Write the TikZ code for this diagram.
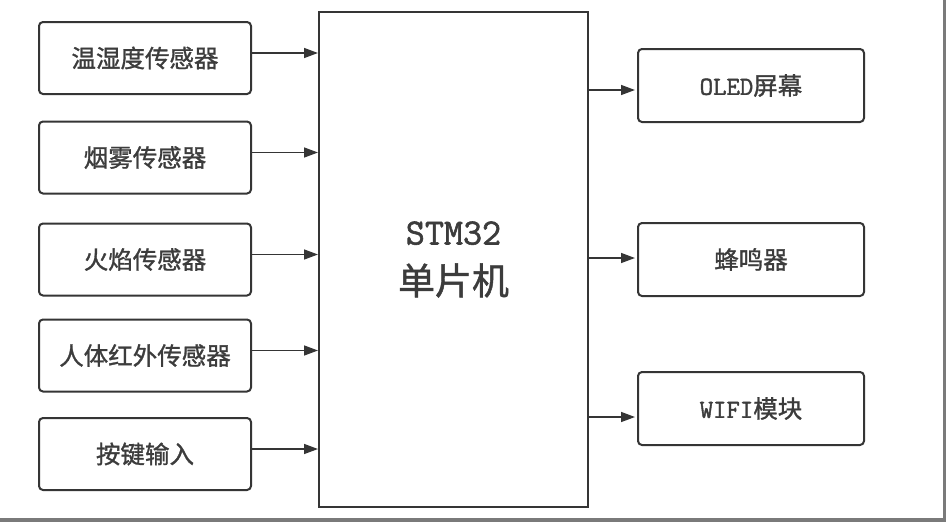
\documentclass[tikz,border=0pt]{standalone}
\usepackage{fontspec}
\newfontfamily\cjk{Noto Sans CJK SC}[FakeBold=1.2]
\newfontfamily\mono{Latin Modern Mono}[FakeBold=1.6]
\usetikzlibrary{arrows.meta}
\definecolor{linec}{HTML}{353535}
\definecolor{textc}{HTML}{3C3C3C}
\definecolor{framec}{HTML}{7A7A7A}
\begin{document}
\begin{tikzpicture}[x=1pt,y=-1pt,
  lbox/.style={draw=linec, line width=2pt, rounded corners=4pt, minimum width=212pt, minimum height=72pt, inner sep=0pt, text=textc, font=\cjk\fontsize{24.5}{27}\selectfont},
  rbox/.style={lbox, minimum width=226pt, minimum height=73pt},
  mcu/.style={draw=linec, line width=2pt, minimum width=269pt, minimum height=495pt, inner sep=0pt, text=textc, align=center, font=\cjk\fontsize{37}{50}\selectfont},
  arr/.style={draw=linec, line width=1.5pt, -{Triangle[length=14pt,width=10pt]}}
]
\useasboundingbox (0,0) rectangle (946,522);
\fill[white] (0,0) rectangle (946,522);
\fill[framec] (943,0) rectangle (946,522);
\fill[framec] (0,518) rectangle (946,522);

\node[mcu] (M) at (453.5,259.5) {{\mono\fontsize{37}{50}\selectfont STM32}\\单片机};

\node[lbox] (L1) at (145,58) {温湿度传感器};
\node[lbox] (L2) at (145,157.5) {烟雾传感器};
\node[lbox] (L3) at (145,259.5) {火焰传感器};
\node[lbox] (L4) at (145,355.5) {人体红外传感器};
\node[lbox] (L5) at (145,454) {按键输入};

\node[rbox] (R1) at (751,85.5) {{\mono\fontsize{26}{27}\selectfont OLED}屏幕};
\node[rbox] (R2) at (751,259.5) {蜂鸣器};
\node[rbox] (R3) at (751,408.5) {{\mono\fontsize{26}{27}\selectfont WIFI}模块};

\foreach \i in {1,...,5}{
  \coordinate (a\i) at ([yshift=5pt]L\i.east);
  \draw[arr] (a\i) -- (a\i -| M.west);
}
\coordinate (b1) at ([yshift=-4.5pt]R1.west);
\coordinate (b2) at ([yshift=1.5pt]R2.west);
\coordinate (b3) at ([yshift=-8.5pt]R3.west);
\foreach \i in {1,2,3}{
  \draw[arr] (b\i -| M.east) -- ([xshift=-2pt]b\i);
}
\end{tikzpicture}
\end{document}
